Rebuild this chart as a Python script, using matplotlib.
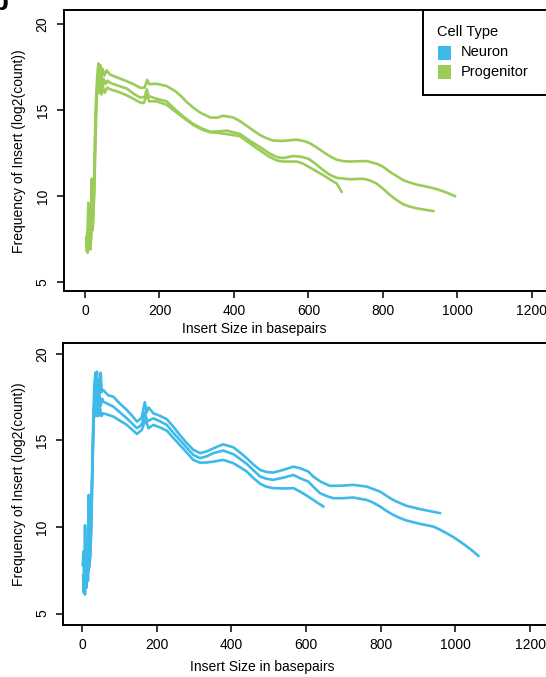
import matplotlib
matplotlib.use("Agg")
import matplotlib.pyplot as plt
from matplotlib.patches import Rectangle

plt.rcParams['font.family'] = ['Liberation Sans', 'DejaVu Sans']

# ---------------- data ----------------
cell_types = ["Neuron", "Progenitor"]
cell_colors = ["#3EBAE8", "#9BCC5A"]
x_ticks = [0, 200, 400, 600, 800, 1000, 1200]
y_ticks = [5, 10, 15, 20]

# Progenitor replicates (top panel)
prog1_x = [3, 5, 7, 9, 10, 12, 14, 16, 18, 19, 21, 24, 27, 30, 33, 36, 38, 41, 44, 47, 52, 58, 67, 85,
           112, 130, 148, 160, 167, 172, 192, 219, 242, 258, 273, 291, 309, 336, 355, 371, 398, 416,
           434, 452, 470, 488, 505, 532, 568, 590, 604, 622, 640, 658, 676, 694, 711, 756, 783, 800,
           819, 837, 855, 872, 890, 915, 944, 970, 993]
prog1_y = [7.6, 6.8, 8.1, 9.6, 7.0, 8.0, 7.2, 8.5, 11.0, 8.3, 9.0, 10.5, 13.5, 15.8, 17.0, 17.7, 16.9,
           17.6, 16.9, 17.4, 17.0, 17.3, 17.06, 16.9, 16.67, 16.5, 16.29, 16.3, 16.75, 16.5, 16.52,
           16.39, 16.1, 15.8, 15.46, 15.13, 14.85, 14.56, 14.55, 14.66, 14.56, 14.35, 14.08, 13.8,
           13.54, 13.35, 13.22, 13.2, 13.27, 13.18, 13.06, 12.82, 12.55, 12.3, 12.1, 12.02, 12.0,
           12.03, 11.87, 11.7, 11.39, 11.15, 10.91, 10.78, 10.66, 10.55, 10.4, 10.2, 9.99]

prog2_x = [4, 6, 8, 10, 11, 13, 15, 17, 20, 22, 25, 28, 31, 34, 37, 40, 43, 46, 50, 55, 60, 67, 90,
           112, 130, 148, 160, 166, 171, 192, 219, 246, 268, 291, 314, 336, 358, 380, 416, 443, 470,
           497, 515, 532, 559, 580, 600, 620, 640, 658, 676, 711, 747, 765, 783, 801, 819, 837, 855,
           872, 890, 912, 935]
prog2_y = [7.0, 7.9, 6.8, 8.9, 7.3, 7.9, 6.9, 9.2, 8.0, 8.7, 10.2, 13.0, 15.5, 16.4, 17.1, 16.3,
           16.9, 16.4, 16.8, 16.5, 16.7, 16.58, 16.4, 16.25, 15.95, 15.72, 15.75, 16.2, 15.8, 15.65,
           15.5, 14.95, 14.55, 14.18, 13.92, 13.74, 13.75, 13.8, 13.6, 13.2, 12.84, 12.45, 12.26,
           12.2, 12.32, 12.28, 12.16, 11.85, 11.49, 11.22, 11.05, 10.97, 11.0, 10.9, 10.72, 10.4,
           10.05, 9.75, 9.51, 9.38, 9.28, 9.2, 9.12]

prog3_x = [5, 7, 9, 11, 13, 15, 17, 19, 21, 23, 26, 29, 32, 35, 38, 41, 44, 48, 53, 60, 67, 90,
           112, 130, 148, 158, 166, 172, 192, 219, 246, 268, 291, 314, 336, 358, 380, 416, 443, 470,
           493, 515, 532, 568, 585, 600, 620, 640, 658, 676, 689]
prog3_y = [7.3, 6.7, 7.8, 6.9, 8.3, 7.1, 7.6, 9.0, 8.2, 9.4, 12.0, 14.8, 16.2, 16.8, 16.0, 16.6,
           15.9, 16.4, 16.0, 16.3, 16.2, 16.05, 15.85, 15.65, 15.43, 15.4, 15.9, 15.5, 15.5, 15.3,
           14.85, 14.48, 14.12, 13.86, 13.7, 13.66, 13.6, 13.47, 13.05, 12.64, 12.3, 12.06, 12.0,
           12.0, 11.88, 11.7, 11.45, 11.2, 10.95, 10.72, 10.24]

# Neuron replicates (bottom panel)
neur1_x = [2, 4, 6, 8, 10, 12, 14, 16, 18, 20, 22, 24, 27, 30, 33, 36, 38, 40, 42, 45, 48, 50, 53,
           57, 70, 84, 100, 120, 135, 147, 160, 168, 173, 178, 191, 208, 227, 244, 262, 280, 298,
           316, 334, 352, 378, 405, 423, 441, 459, 477, 494, 512, 540, 566, 584, 606, 619, 640, 664,
           695, 726, 762, 798, 815, 833, 851, 869, 905, 930, 958]
neur1_y = [7.8, 8.6, 6.9, 10.1, 7.5, 8.2, 7.0, 9.0, 11.85, 8.6, 9.6, 10.8, 13.0, 16.0, 18.2, 18.9,
           17.5, 18.96, 17.6, 18.5, 17.7, 18.9, 17.8, 17.9, 17.6, 17.52, 17.15, 16.75, 16.4, 16.08,
           16.3, 17.2, 16.6, 16.9, 16.56, 16.42, 16.22, 15.8, 15.31, 14.85, 14.45, 14.26, 14.36,
           14.54, 14.77, 14.6, 14.3, 13.97, 13.6, 13.29, 13.17, 13.14, 13.3, 13.48, 13.39, 13.2,
           12.91, 12.6, 12.37, 12.38, 12.43, 12.33, 12.04, 11.8, 11.56, 11.38, 11.22, 11.03, 10.92,
           10.8]

neur2_x = [3, 5, 7, 9, 11, 13, 15, 17, 19, 21, 23, 26, 29, 32, 36, 38, 40, 43, 46, 50, 54, 57, 84,
           120, 147, 160, 168, 175, 191, 208, 227, 244, 262, 280, 298, 316, 334, 352, 378, 405, 423,
           441, 459, 477, 494, 512, 540, 566, 584, 606, 619, 637, 655, 673, 700, 726, 762, 780, 798,
           815, 833, 851, 869, 905, 941, 958, 976, 994, 1012, 1030, 1048, 1061]
neur2_y = [7.2, 6.2, 8.3, 7.0, 9.2, 6.8, 8.0, 7.4, 10.5, 8.2, 9.0, 11.5, 14.5, 17.0, 18.0, 17.0,
           18.3, 16.9, 17.6, 17.0, 17.4, 17.23, 16.94, 16.27, 15.7, 15.9, 16.6, 16.1, 16.27, 16.1,
           15.89, 15.45, 15.02, 14.58, 14.16, 13.97, 14.08, 14.26, 14.41, 14.2, 13.93, 13.64, 13.27,
           12.91, 12.78, 12.72, 12.85, 13.0, 12.81, 12.62, 12.33, 11.95, 11.78, 11.66, 11.66, 11.7,
           11.56, 11.4, 11.18, 10.93, 10.7, 10.52, 10.37, 10.18, 10.02, 9.85, 9.64, 9.42, 9.16, 8.88,
           8.58, 8.33]

neur3_x = [4, 6, 8, 10, 12, 14, 16, 18, 20, 22, 25, 28, 31, 34, 36, 38, 41, 44, 48, 52, 57, 84,
           120, 147, 160, 170, 178, 191, 208, 227, 244, 262, 280, 298, 316, 334, 352, 378, 405, 423,
           441, 459, 477, 494, 512, 540, 566, 584, 606, 619, 646]
neur3_y = [6.3, 7.9, 6.1, 8.4, 6.5, 7.6, 6.9, 8.8, 7.7, 8.3, 10.0, 13.5, 16.0, 17.0, 17.5, 16.4,
           17.2, 16.4, 16.9, 16.4, 16.56, 16.37, 15.89, 15.37, 15.6, 16.2, 15.7, 15.89, 15.75, 15.56,
           15.15, 14.73, 14.3, 13.87, 13.71, 13.72, 13.77, 13.87, 13.68, 13.45, 13.2, 12.82, 12.49,
           12.32, 12.24, 12.22, 12.24, 12.04, 11.75, 11.56, 11.18]

prog_series = [(prog1_x, prog1_y), (prog2_x, prog2_y), (prog3_x, prog3_y)]
neur_series = [(neur1_x, neur1_y), (neur2_x, neur2_y), (neur3_x, neur3_y)]

# ---------------- layout ----------------
W, H = 546, 677
fig = plt.figure(figsize=(W / 100, H / 100), dpi=100)


def fx(px):
    return px / W


def fy(py):
    return 1 - py / H


def make_axes(left, top, bottom, right, xlim, ylim):
    ax = fig.add_axes([fx(left), fy(bottom), fx(right) - fx(left), fy(top) - fy(bottom)])
    ax.set_xlim(*xlim)
    ax.set_ylim(*ylim)
    for s in ax.spines.values():
        s.set_linewidth(1.4)
        s.set_color("black")
    ax.set_xticks(x_ticks)
    ax.set_xticklabels([str(t) for t in x_ticks])
    ax.set_yticks(y_ticks)
    ax.set_yticklabels([str(t) for t in y_ticks])
    ax.tick_params(axis='both', direction='out', length=5, width=1.1, labelsize=10,
                   colors='black')
    ax.tick_params(axis='x', pad=4.5)
    ax.tick_params(axis='y', pad=5)
    for lab in ax.get_yticklabels():
        lab.set_rotation(90)
        lab.set_va('center')
    return ax


ax_top = make_axes(63.5, 10, 290.7, 600, (-57.7, 1382.6), (4.49, 20.81))
ax_bot = make_axes(63.3, 343.3, 624.5, 600, (-50.1, 1386.9), (4.37, 20.6))

for xs, ys in prog_series:
    ax_top.plot(xs, ys, color=cell_colors[1], lw=1.9, solid_joinstyle='round')
for xs, ys in neur_series:
    ax_bot.plot(xs, ys, color=cell_colors[0], lw=1.9, solid_joinstyle='round')

ylab = "Frequency of Insert (log2(count))"
xlab = "Insert Size in basepairs"
fig.text(fx(19), fy(151), ylab, rotation=90, ha='center', va='center', fontsize=10)
fig.text(fx(19), fy(484), ylab, rotation=90, ha='center', va='center', fontsize=10)
fig.text(fx(254), fy(329), xlab, ha='center', va='center', fontsize=10)
fig.text(fx(262), fy(667), xlab, ha='center', va='center', fontsize=10)

# legend box (manual, extends past the right edge like the reference)
fig.patches.append(Rectangle((fx(423.3), fy(95)), fx(600) - fx(423.3), fy(10) - fy(95),
                             transform=fig.transFigure, facecolor='white', edgecolor='black',
                             lw=1.4, zorder=5))
fig.text(fx(436.7), fy(32), "Cell Type", ha='left', va='center', fontsize=10.5, zorder=6)
sw_tops = [46, 65]
lab_ys = [52, 72]
for name, col, top, ly in zip(cell_types, cell_colors, sw_tops, lab_ys):
    fig.patches.append(Rectangle((fx(438.3), fy(top + 13.5)), fx(450.7) - fx(438.3),
                                 fy(top) - fy(top + 13.5), transform=fig.transFigure,
                                 facecolor=col, edgecolor='none', zorder=6))
    fig.text(fx(461), fy(ly), name, ha='left', va='center', fontsize=10.5, zorder=6)

# panel letter, mostly cut off at the top edge
fig.text(fx(-9), fy(10.5), "b", fontsize=20, fontweight='bold', ha='left', va='baseline')

fig.savefig("out.png", dpi=100)
